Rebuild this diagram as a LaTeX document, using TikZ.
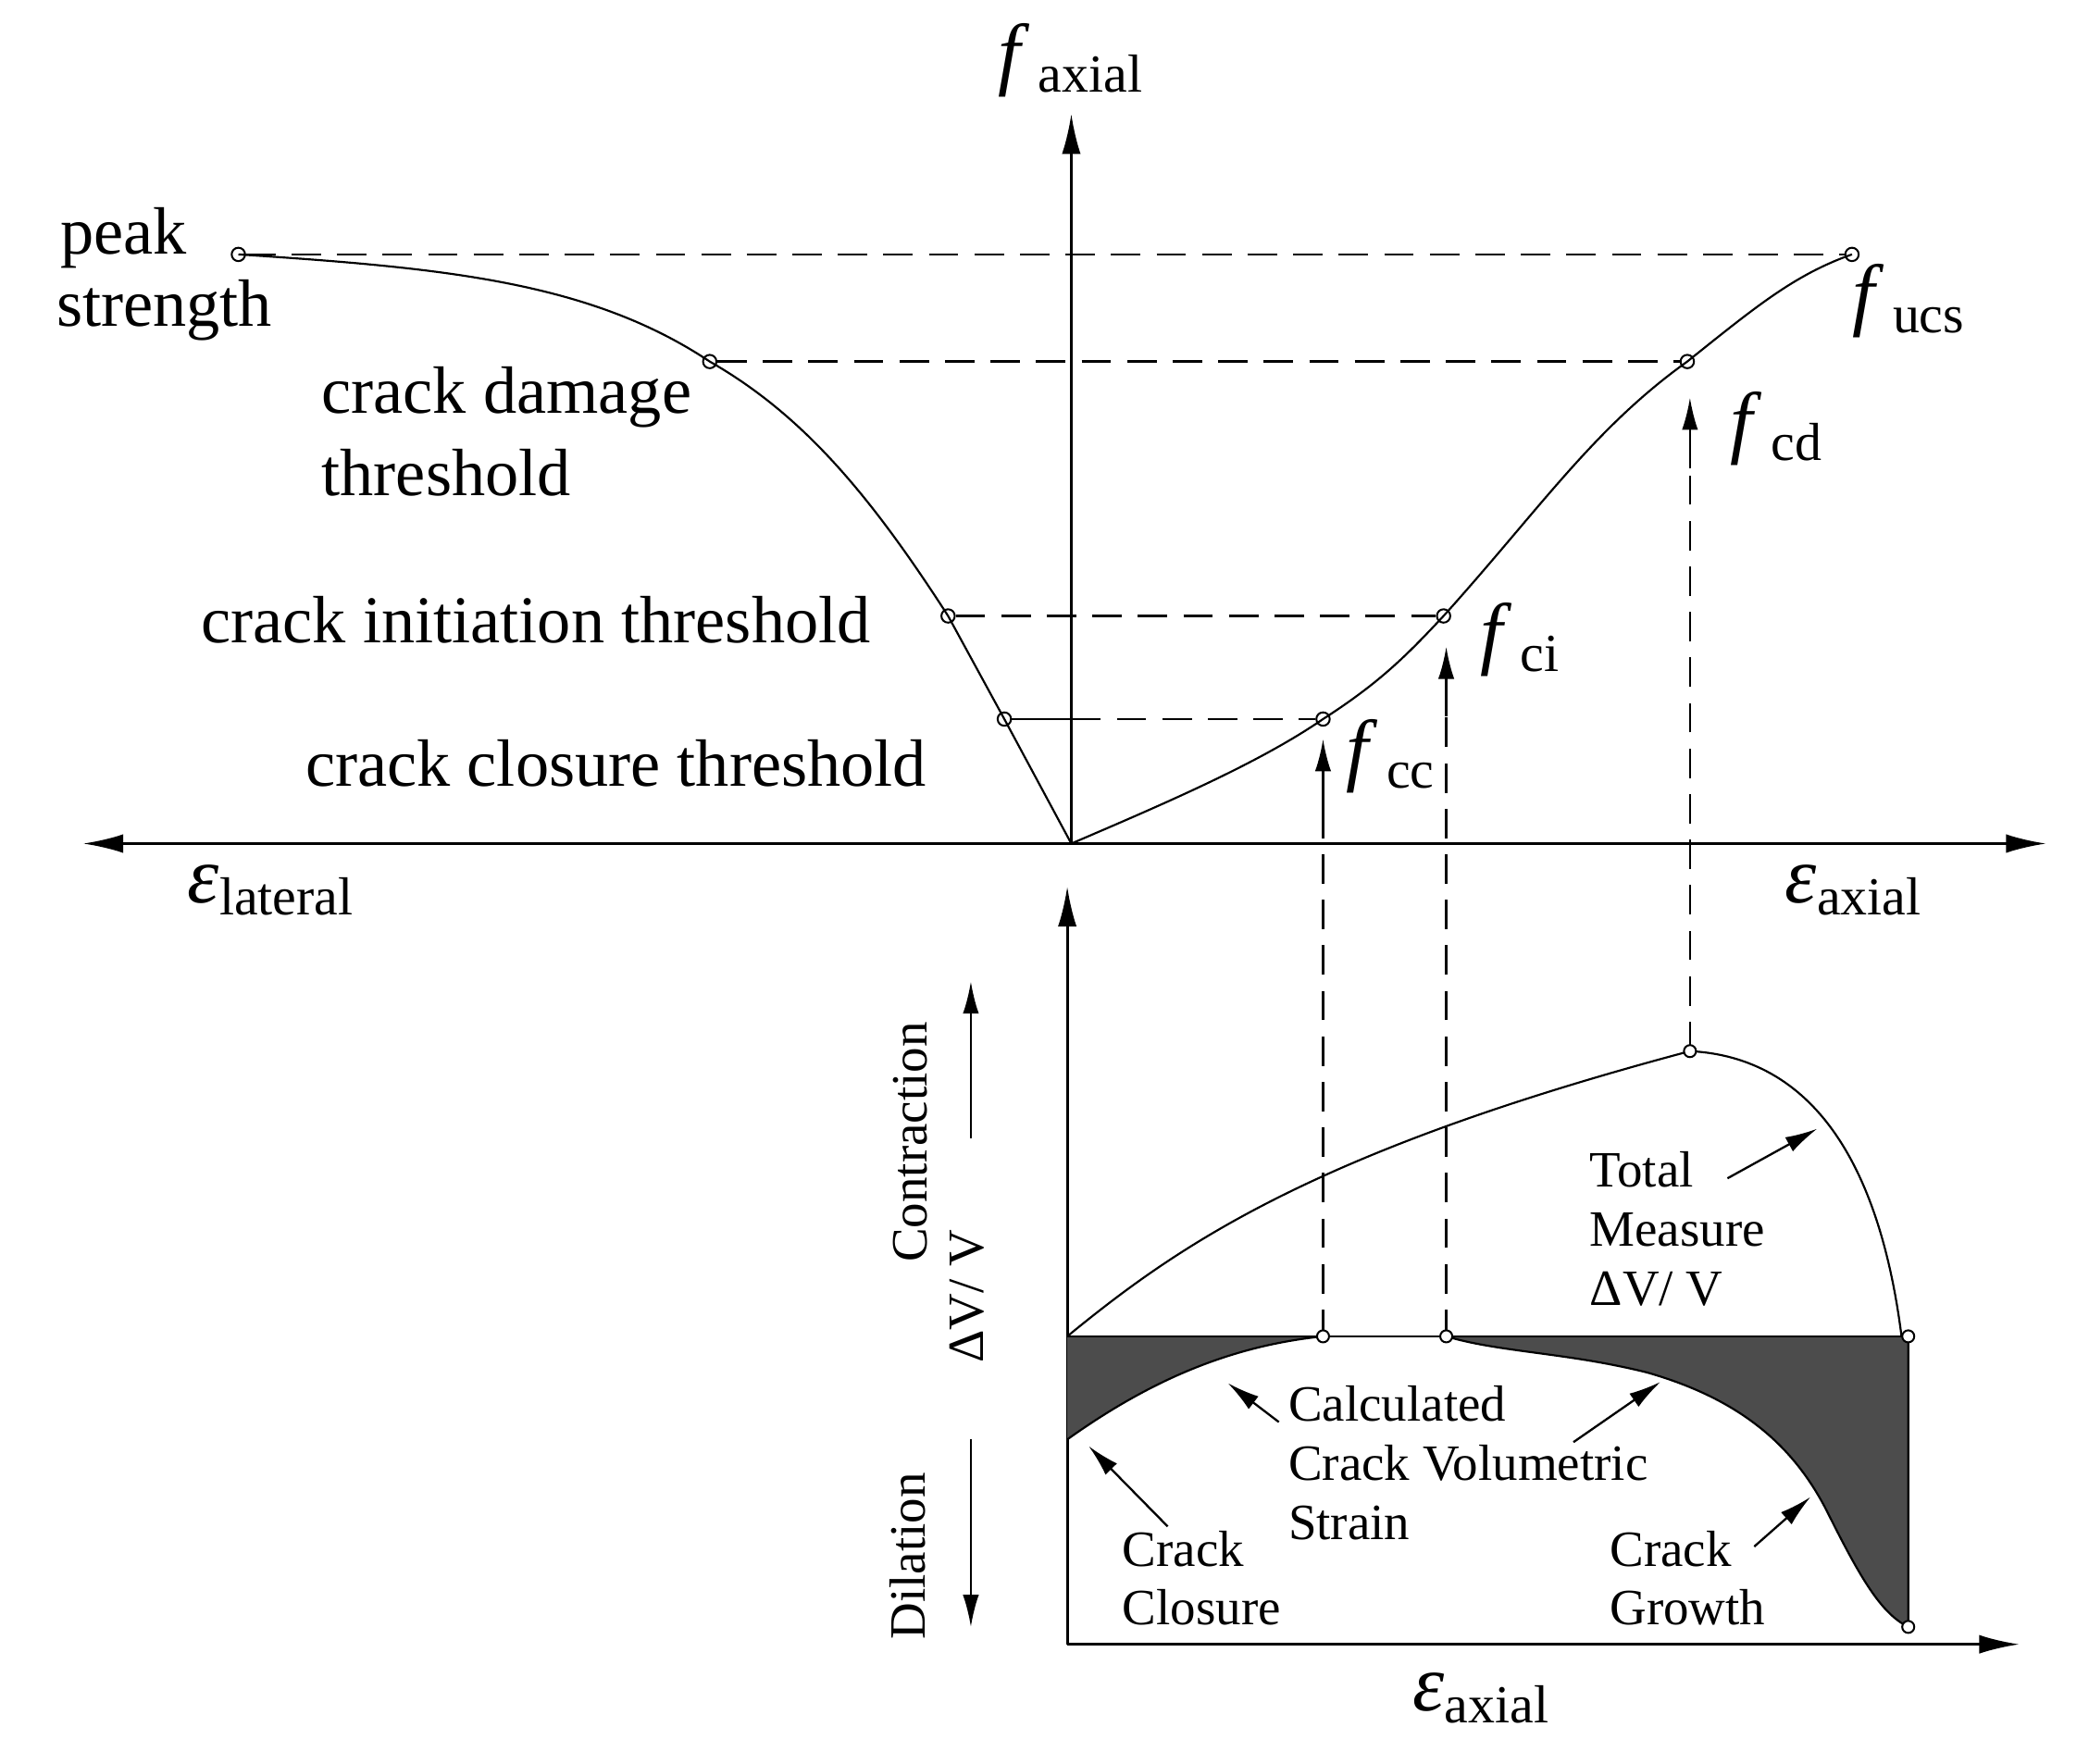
\documentclass[tikz,border=0pt]{standalone}
\usepackage{fontspec}
\setmainfont{Liberation Serif}
\usetikzlibrary{arrows.meta}
\newcommand{\lbl}[2]{\textit{#1}\fontsize{40}{44}\selectfont\raisebox{-9pt}{#2}}
\begin{document}
\begin{tikzpicture}[x=1pt,y=-1pt,
 ax/.style={line width=2pt,-{Latex[length=30,width=14]}},
 sa/.style={line width=1.6pt,-{Latex[length=24,width=12]}},
 dsh/.style={line width=1.8pt,dash pattern=on 22pt off 12pt},
 crv/.style={line width=1.5pt},
 pt/.style={circle,draw,line width=1.4pt,fill=white,inner sep=0pt,minimum size=10pt},
 big/.style={font=\fontsize{50}{56}\selectfont,inner sep=0pt},
 sm/.style={font=\fontsize{38}{44}\selectfont,inner sep=0pt,align=left},
 fl/.style={font=\fontsize{60}{64}\selectfont,inner sep=0pt}]
\useasboundingbox (0,0) rectangle (1560,1317);
% axes
\coordinate (O) at (800,630);
\coordinate (Yt) at (800,85);
\coordinate (Xl) at (62,630);
\coordinate (Xr) at (1528,630);
\draw[ax] (O) -- (Yt);
\draw[ax] (O) -- (Xl);
\draw[ax] (O) -- (Xr);
% points
\node[pt] (p1) at (178,190) {};
\node[pt] (p2) at (530,270) {};
\node[pt] (p3) at (708,460) {};
\node[pt] (p4) at (750,537) {};
\node[pt] (q1) at (1383,190) {};
\node[pt] (q2) at (1260,270) {};
\node[pt] (q3) at (1078,460) {};
\node[pt] (q4) at (988,537) {};
\coordinate (c4) at (800,537);
% dashed horizontals
\draw[dsh] (p1) -- (q1);
\draw[dsh] (p2) -- (q2);
\draw[dsh] (p3) -- (q3);
\draw[crv] (p4) -- (c4);
\draw[dsh] (c4) -- (q4);
% curves
\draw[crv] (O) -- (p4.center) -- (p3.center) .. controls (650,370) and (600,310) .. (p2.center) .. controls (440,210) and (330,200) .. (p1.center);
\draw[crv] (O) .. controls (870,600) and (940,570) .. (q4.center) .. controls (1030,510) and (1050,490) .. (q3.center) .. controls (1150,380) and (1190,320) .. (q2.center) .. controls (1310,230) and (1340,205) .. (q1.center);
% labels top
\node[fl,anchor=west] at (745,45) {\lbl{f}{\,axial}};
\node[big,anchor=west] at (45,178) {peak};
\node[big,anchor=west] at (42,232) {strength};
\node[big,anchor=west] at (240,297) {crack damage};
\node[big,anchor=west] at (240,353) {threshold};
\node[big,anchor=west] at (150,463) {crack initiation threshold};
\node[big,anchor=west] at (228,570) {crack closure threshold};
\node[fl,anchor=west] at (1383,225) {\lbl{f}{\,ucs}};
\node[fl,anchor=west] at (1292,320) {\lbl{f}{\,cd}};
\node[fl,anchor=west] at (1105,478) {\lbl{f}{\,ci}};
\node[fl,anchor=west] at (1005,565) {\lbl{f}{\,cc}};
\node[fl,anchor=west] at (140,665) {\lbl{ε}{lateral}};
\node[fl,anchor=west] at (1333,665) {\lbl{ε}{axial}};
% dashed verticals
\coordinate (d1b) at (988,1000); \coordinate (d1t) at (988,552);
\coordinate (d2b) at (1080,1000); \coordinate (d2t) at (1080,483);
\coordinate (d3b) at (1262,785); \coordinate (d3t) at (1262,297);
\draw[dsh] (d1b) -- (988,600); \draw[sa] (988,605) -- (d1t);
\draw[dsh] (d2b) -- (1080,530); \draw[sa] (1080,535) -- (d2t);
\draw[dsh] (d3b) -- (1262,345); \draw[sa] (1262,350) -- (d3t);
% lower plot
\coordinate (L0) at (797,1228);
\draw[ax] (L0) -- (797,662);
\draw[ax] (L0) -- (1508,1228);
\fill[black!70] (797,998) -- (797,1075) .. controls (860,1030) and (920,1005) .. (988,998) -- (1080,998) .. controls (1120,1010) and (1170,1010) .. (1230,1025) .. controls (1300,1045) and (1340,1080) .. (1365,1130) .. controls (1390,1180) and (1405,1205) .. (1425,1215) -- (1425,998) -- cycle;
\draw[crv] (797,998) -- (1425,998);
\draw[crv] (797,1075) .. controls (860,1030) and (920,1005) .. (988,998);
\draw[crv] (1080,998) .. controls (1120,1010) and (1170,1010) .. (1230,1025) .. controls (1300,1045) and (1340,1080) .. (1365,1130) .. controls (1390,1180) and (1405,1205) .. (1425,1215) -- (1425,998);
\draw[crv] (797,998) .. controls (880,930) and (980,860) .. (1262,785) .. controls (1360,790) and (1405,880) .. (1420,998);
\node[pt,minimum size=9pt] at (988,998) {};
\node[pt,minimum size=9pt] at (1080,998) {};
\node[pt,minimum size=9pt] at (1262,785) {};
\node[pt,minimum size=9pt] at (1425,998) {};
\node[pt,minimum size=9pt] at (1425,1215) {};
% side labels
\node[sm,rotate=90] at (680,853) {Contraction};
\node[sm,rotate=90] at (722,968) {ΔV/ V};
\node[sm,rotate=90] at (678,1162) {Dilation};
\draw[sa] (725,850) -- (725,733);
\draw[sa] (725,1075) -- (725,1215);
% lower labels
\node[sm,anchor=north west] (t1) at (1187,860) {Total\\Measure\\ΔV/ V};
\node[sm,anchor=north west] at (962,1035) {Calculated\\Crack Volumetric\\Strain};
\node[sm,anchor=north west] at (838,1143) {Crack\\Closure};
\node[sm,anchor=north west] at (1202,1143) {Crack\\Growth};
\draw[sa] (1290,880) -- (1357,843);
\draw[sa] (955,1062) -- (917,1033);
\draw[sa] (1175,1077) -- (1240,1032);
\draw[sa] (872,1140) -- (813,1080);
\draw[sa] (1310,1155) -- (1352,1118);
\node[fl,anchor=west] at (1055,1268) {\lbl{ε}{axial}};
\end{tikzpicture}
\end{document}
